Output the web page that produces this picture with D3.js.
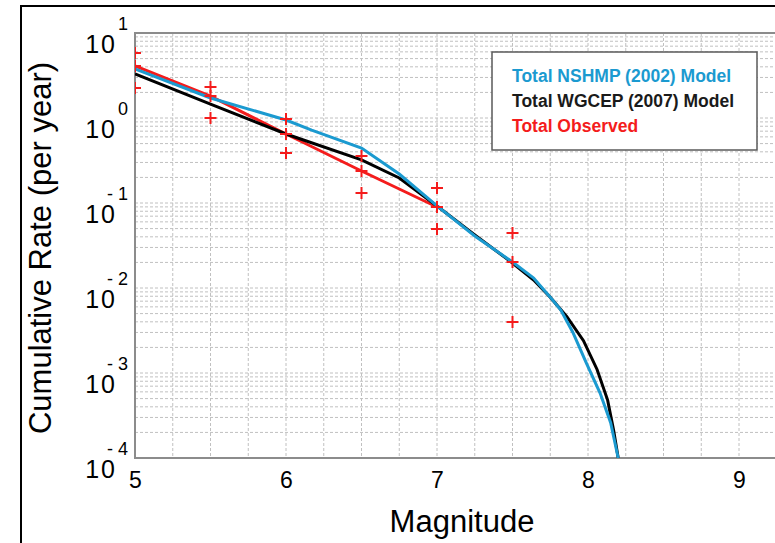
<!DOCTYPE html>
<html>
<head>
<meta charset="utf-8">
<script src="https://cdn.jsdelivr.net/npm/d3@7"></script>
<style>
  body { margin: 0; background: #fff; }
  svg { display: block; font-family: "Liberation Sans", Arial, Helvetica, sans-serif; }
</style>
</head>
<body>
<div id="chart"></div>
<script>
// Cumulative rate of earthquakes vs magnitude (log y axis)

// NSHMP (2002) model, blue
const nshmpMag  = [5.0, 5.5, 6.0, 6.17, 6.5, 6.75, 7.0, 7.25, 7.5, 7.64, 7.75, 7.82, 7.9, 7.99, 8.08, 8.15, 8.2];
const nshmpRate = [3.77, 1.72, 0.947, 0.72, 0.444, 0.219, 0.0923, 0.0409, 0.0202, 0.0131, 0.0078, 0.0055, 0.003, 0.0013, 0.00058, 0.00026, 0.0001];

// WGCEP (2007) model, black
const wgcepMag  = [5.0, 5.5, 6.0, 6.5, 6.75, 7.0, 7.25, 7.5, 7.64, 7.75, 7.86, 7.97, 8.06, 8.13, 8.17, 8.2];
const wgcepRate = [3.30, 1.46, 0.648, 0.321, 0.197, 0.0923, 0.042, 0.0197, 0.0124, 0.0078, 0.0046, 0.0024, 0.0011, 0.00048, 0.00021, 0.0001];

// Observed, red: central value and bounds
const obsMag   = [5.0, 5.5, 6.0, 6.5, 7.0, 7.5];
const obsRate  = [4.09, 1.81, 0.648, 0.238, 0.0897, 0.0202];
const obsUpper = [5.82, 2.32, 0.97, 0.357, 0.150, 0.0444];
const obsLower = [2.25, 1.0, 0.387, 0.131, 0.0494, 0.00398];
const obsLineMax = 7.0; // observed line stops here

const xTicks = [5, 6, 7, 8, 9];
const yTicks = [1e-4, 1e-3, 1e-2, 1e-1, 1, 10];
const yExponents = ['- 4', '- 3', '- 2', '- 1', '0', '1'];

const legendItems = [
  {label: 'Total NSHMP (2002) Model', color: '#1b9ad0'},
  {label: 'Total WGCEP (2007) Model', color: '#1a1a1a'},
  {label: 'Total Observed', color: '#f41c1c'}
];

const width = 775, height = 543;
// plot box (right edge runs past the window, as in the source figure)
const plot = {left: 135, top: 33, bottom: 458, right: 135 + 4.3 * 151};

let svg = d3.select('#chart').append('svg')
  .attr('width', width)
  .attr('height', height);

let x = d3.scaleLinear().domain([5, 9.3]).range([plot.left, plot.right]);
let y = d3.scaleLog().domain([1e-4, 10]).range([plot.bottom, plot.top]);

svg.append('defs').append('clipPath').attr('id', 'clip')
  .append('rect')
  .attr('x', plot.left).attr('y', plot.top)
  .attr('width', plot.right - plot.left).attr('height', plot.bottom - plot.top);

// Outer figure frame
svg.append('path')
  .attr('d', `M21,${height} V6 H${width}`)
  .attr('fill', 'none')
  .attr('stroke', '#000')
  .attr('stroke-width', 2);

// Grid lines
let grid = svg.append('g').attr('clip-path', 'url(#clip)');

grid.selectAll('.hgrid')
  .data(y.ticks())
  .enter().append('line')
  .attr('class', 'hgrid')
  .attr('x1', plot.left).attr('x2', plot.right)
  .attr('y1', d => y(d)).attr('y2', d => y(d))
  .attr('stroke', '#c0c0c0')
  .attr('stroke-width', 1)
  .attr('stroke-dasharray', '3,2');

grid.selectAll('.vgrid')
  .data(d3.range(5.25, 9.3, 0.25))
  .enter().append('line')
  .attr('class', 'vgrid')
  .attr('x1', d => x(d)).attr('x2', d => x(d))
  .attr('y1', plot.top).attr('y2', plot.bottom)
  .attr('stroke', '#c0c0c0')
  .attr('stroke-width', 1)
  .attr('stroke-dasharray', '3,2');

// Plot box border
svg.append('path')
  .attr('d', `M${plot.right},${plot.top} H${plot.left} V${plot.bottom} H${plot.right}`)
  .attr('fill', 'none')
  .attr('stroke', '#8c8c8c')
  .attr('stroke-width', 2);

// X axis labels
let xAxis = svg.append('g')
  .attr('transform', `translate(0,${plot.bottom})`)
  .call(d3.axisBottom(x).tickValues(xTicks).tickSize(0).tickPadding(14).tickFormat(d3.format('d')));
xAxis.select('.domain').remove();
xAxis.selectAll('text')
  .attr('fill', '#000')
  .style('font-size', '23px')
  .style('font-family', '"Liberation Sans", Arial, sans-serif');

svg.append('text')
  .attr('x', 462)
  .attr('y', 532)
  .attr('text-anchor', 'middle')
  .style('font-size', '31px')
  .text('Magnitude');

// Y axis labels: 10 with a superscript exponent
let yAxis = svg.append('g')
  .attr('transform', `translate(${plot.left},0)`)
  .call(d3.axisLeft(y).tickValues(yTicks).tickSize(0).tickFormat(''));
yAxis.select('.domain').remove();
yAxis.selectAll('.tick').each(function(d, i) {
  let t = d3.select(this);
  t.append('text')
    .attr('x', -18)
    .attr('y', 19)
    .attr('text-anchor', 'end')
    .attr('fill', '#000')
    .style('font-size', '25px')
    .style('letter-spacing', '2px')
    .text('10');
  t.append('text')
    .attr('x', -7)
    .attr('y', -4)
    .attr('text-anchor', 'end')
    .attr('fill', '#000')
    .style('font-size', '18px')
    .style('white-space', 'pre')
    .attr('xml:space', 'preserve')
    .text(yExponents[yTicks.indexOf(d)]);
});

svg.append('text')
  .attr('transform', 'translate(51,248) rotate(-90)')
  .attr('text-anchor', 'middle')
  .style('font-size', '31px')
  .text('Cumulative Rate (per year)');

// Series lines
let marks = svg.append('g').attr('clip-path', 'url(#clip)');
let line = d3.line().x(d => x(d[0])).y(d => y(d[1]));

let obsLine = obsMag.map((m, i) => [m, obsRate[i]]).filter(d => d[0] <= obsLineMax);

marks.append('path')
  .datum(obsLine)
  .attr('d', line)
  .attr('fill', 'none')
  .attr('stroke', legendItems[2].color)
  .attr('stroke-width', 3);

marks.append('path')
  .datum(wgcepMag.map((m, i) => [m, wgcepRate[i]]))
  .attr('d', line)
  .attr('fill', 'none')
  .attr('stroke', '#000')
  .attr('stroke-width', 3);

marks.append('path')
  .datum(nshmpMag.map((m, i) => [m, nshmpRate[i]]))
  .attr('d', line)
  .attr('fill', 'none')
  .attr('stroke', legendItems[0].color)
  .attr('stroke-width', 3);

// Observed plus markers: center, upper and lower
let plusPts = [];
obsMag.forEach((m, i) => {
  plusPts.push([m, obsRate[i]], [m, obsUpper[i]], [m, obsLower[i]]);
});
marks.selectAll('.plus')
  .data(plusPts)
  .enter().append('path')
  .attr('class', 'plus')
  .attr('d', d => {
    let px = x(d[0]), py = y(d[1]), s = 6;
    return `M${px - s},${py} H${px + s} M${px},${py - s} V${py + s}`;
  })
  .attr('stroke', legendItems[2].color)
  .attr('stroke-width', 2)
  .attr('fill', 'none');

// Legend
let legend = svg.append('g');
legend.append('rect')
  .attr('x', 492).attr('y', 52)
  .attr('width', 265).attr('height', 98)
  .attr('fill', '#fff')
  .attr('stroke', '#5a5a5a')
  .attr('stroke-width', 1.5);

legend.selectAll('.legend-text')
  .data(legendItems)
  .enter().append('text')
  .attr('class', 'legend-text')
  .attr('x', 512)
  .attr('y', (d, i) => 82 + i * 25)
  .attr('fill', d => d.color)
  .style('font-size', '17.5px')
  .style('font-weight', 'bold')
  .text(d => d.label);
</script>
</body>
</html>
